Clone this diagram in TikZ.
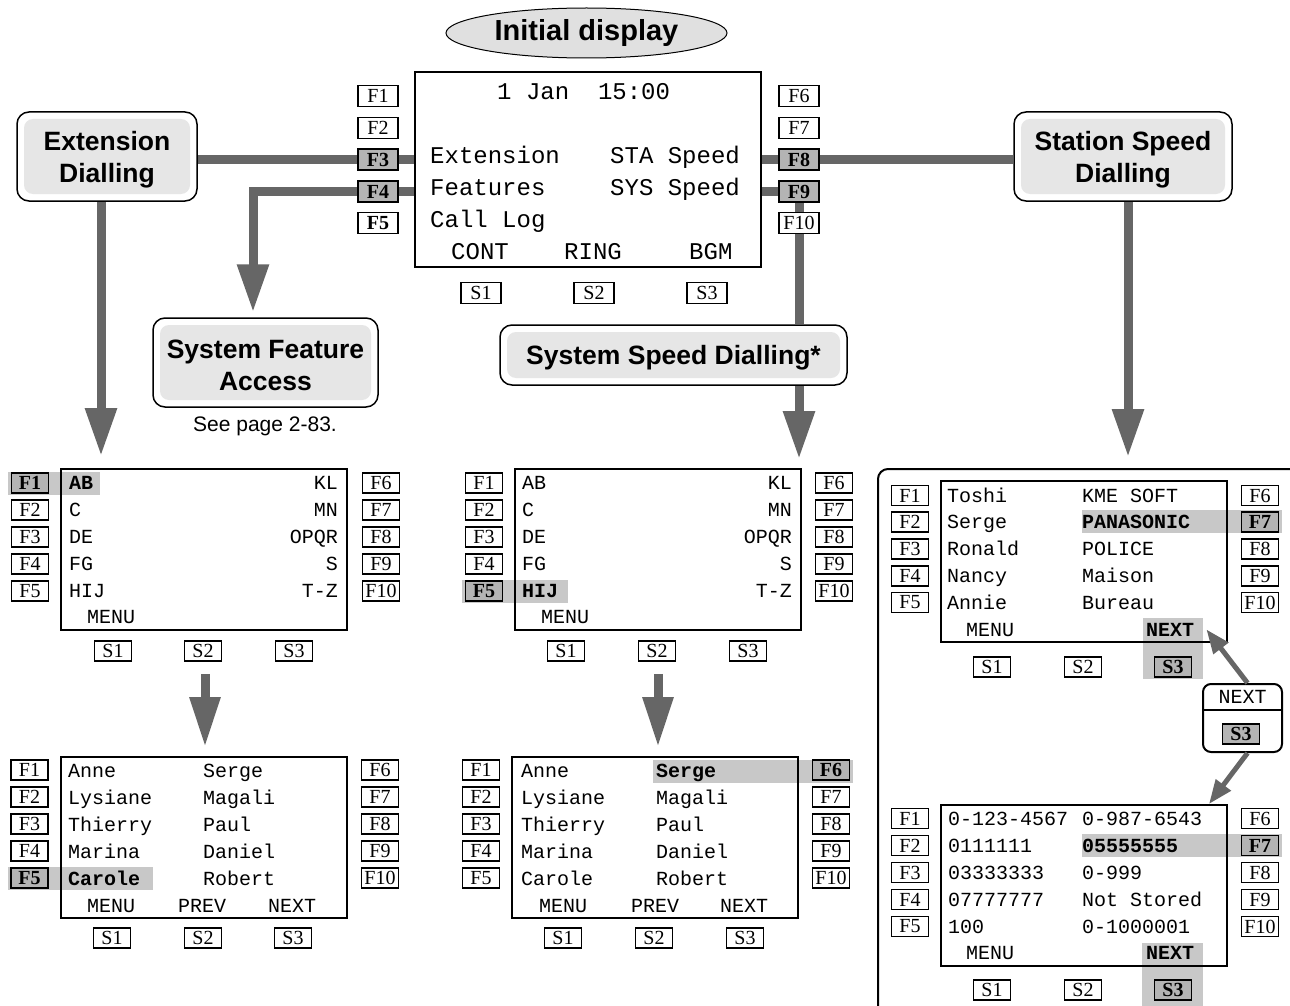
\documentclass[tikz,border=0pt]{standalone}
\usepackage{fontspec}
\setmainfont{Liberation Serif}
\setsansfont{Liberation Sans}
\newfontfamily\monof{Liberation Mono}
\usetikzlibrary{arrows.meta,shapes.geometric}
\pgfdeclarelayer{bg}
\pgfsetlayers{bg,main}
\definecolor{linegray}{HTML}{666666}
\definecolor{boxgray}{HTML}{E6E6E6}
\definecolor{hlgray}{HTML}{C8C8C8}
\definecolor{keygray}{HTML}{B4B4B4}
\definecolor{ellgray}{HTML}{E0E0E0}
\tikzset{
 fkey/.style={draw, line width=1.8pt, fill=white, inner sep=0pt, minimum width=37pt, minimum height=20pt, font=\rmfamily\fontsize{20}{20}\selectfont},
 fkeybig/.style={fkey, minimum width=40pt, minimum height=21pt},
 kplain/.style={},
 fon/.style={fill=keygray, font=\rmfamily\bfseries\fontsize{20}{20}\selectfont},
 fbold/.style={font=\rmfamily\bfseries\fontsize{20}{20}\selectfont},
 screen/.style={draw, line width=2pt, inner sep=0pt},
 lcd/.style={inner sep=0pt, anchor=base west, font=\monof\fontsize{20}{20}\selectfont},
 lcdr/.style={lcd, anchor=base east},
 lcdbig/.style={inner sep=0pt, anchor=base west, font=\monof\fontsize{24}{24}\selectfont},
 lcdb/.style={font=\monof\bfseries\fontsize{20}{20}\selectfont},
 nob/.style={},
 hl/.style={fill=hlgray},
 titlebox/.style={draw, line width=1.5pt, fill=white, rounded corners=12pt, inner sep=0pt,
   path picture={\fill[boxgray, rounded corners=9pt] ([shift={(7pt,-7pt)}]path picture bounding box.north west) rectangle ([shift={(-7pt,7pt)}]path picture bounding box.south east);}},
 titletext/.style={align=center, inner sep=0pt, font=\sffamily\bfseries\fontsize{26.5}{32}\selectfont},
 conn/.style={draw=linegray, line width=9pt},
 bigarrow/.style={conn, -{Triangle[length=48pt,width=30pt]}},
 smallarrow/.style={draw=linegray, line width=5pt, -{Triangle[length=24pt,width=18pt]}},
}
\begin{document}
\begin{tikzpicture}[x=1pt,y=-1pt]
\useasboundingbox (0,0) rectangle (1290,1006);

% ---------- title shapes ----------
\node[draw, line width=1pt, ellipse, fill=ellgray, minimum width=281pt, minimum height=50pt, inner sep=0pt,
      font=\sffamily\bfseries\fontsize{29}{29}\selectfont] (init) at (586.5,33) {Initial display};
\node[titlebox, minimum width=180pt, minimum height=89pt] (ExtD) at (107,156.5) {};
\node[titletext] (ExtDt) at (107,160) {Extension\\Dialling};
\node[titlebox, minimum width=225pt, minimum height=89pt] (SFA) at (265.5,362.5) {};
\node[titletext] (SFAt) at (265.5,365) {System Feature\\Access};
\node[anchor=base, inner sep=0pt, font=\sffamily\fontsize{21}{21}\selectfont] (see) at (265,431) {See page 2-83.};
\node[titlebox, minimum width=218pt, minimum height=89pt] (StaSD) at (1123,156.5) {};
\node[titletext] (StaSDt) at (1123,160) {Station Speed\\Dialling};
\node[titlebox, minimum width=347pt, minimum height=60pt] (SysSD) at (673.5,355) {};
\node[titletext] (SysSDt) at (673.5,358) {System Speed Dialling*};

% ---------- screens ----------
\node[screen, minimum width=346pt, minimum height=195pt] (scrTop) at (588,169.5) {};
\node[screen, minimum width=286pt, minimum height=161pt] (scrL1) at (204,549.5) {};
\node[screen, minimum width=286pt, minimum height=161pt] (scrC1) at (658,549.5) {};
\node[screen, minimum width=286pt, minimum height=161pt] (scrL2) at (204,837.5) {};
\node[screen, minimum width=286pt, minimum height=161pt] (scrC2) at (655,837.5) {};
\node[draw, line width=2pt, rounded corners=10pt, minimum width=422pt, minimum height=551pt, inner sep=0pt] (panel) at (1089,744.5) {};
\node[screen, minimum width=286pt, minimum height=161pt] (scrR1) at (1084,561.5) {};
\node[screen, minimum width=286pt, minimum height=161pt] (scrR2) at (1084,885.5) {};

% ---------- top screen ----------
\foreach \i/\y/\s in {1/96/kplain,2/128/kplain,3/159.5/fon,4/191.5/fon,5/223/fbold}
  {\node[fkeybig,\s] (tF\i) at (378,\y) {F\i};}
\foreach \i/\y/\s in {6/96/kplain,7/128/kplain,8/159.5/fon,9/191.5/fon,10/223/kplain}
  {\node[fkeybig,\s] (tF\i) at (799,\y) {F\i};}
\foreach \i/\x in {1/481,2/594,3/707}
  {\node[fkeybig] (tS\i) at (\x,293) {S\i};}
\node[lcdbig] (tTime) at (497,99.5) {1~Jan~~15:00};
\node[lcdbig] (tExt) at (430,163) {Extension};
\node[lcdbig] (tFeat) at (430,195) {Features};
\node[lcdbig] (tLog) at (430,227) {Call~Log};
\node[lcdbig] (tSTA) at (610,163) {STA~Speed};
\node[lcdbig] (tSYS) at (610,195) {SYS~Speed};
\node[lcdbig] (tCONT) at (451,259) {CONT};
\node[lcdbig] (tRING) at (564,259) {RING};
\node[lcdbig] (tBGM) at (689,259) {BGM};

% ---------- highlight bars ----------
\begin{pgfonlayer}{bg}
\fill[hl] (8,472) rectangle (100,495);
\fill[hl] (462,580) rectangle (568,603);
\fill[hl] (8,867) rectangle (153,890);
\fill[hl] (653,760) rectangle (853,783);
\fill[hl] (1082,510) rectangle (1282,533);
\fill[hl] (1143,618) rectangle (1203,679);
\fill[hl] (1082,834) rectangle (1282,857);
\fill[hl] (1142,943) rectangle (1203,1010);
\end{pgfonlayer}

% ---------- left index screen ----------
\foreach \i/\s [count=\k from 0] in {1/fon,2/kplain,3/kplain,4/kplain,5/kplain}
  {\node[fkey,\s] (l1F\i) at (30,483+27*\k) {F\i};}
\foreach \i [count=\k from 0] in {6,7,8,9,10}
  {\node[fkey] (l1F\i) at (381,483+27*\k) {F\i};}
\foreach \i/\x in {1/113,2/203,3/294}
  {\node[fkey] (l1S\i) at (\x,651) {S\i};}
\foreach \t/\s [count=\k from 0] in {AB/lcdb,C/nob,DE/nob,FG/nob,HIJ/nob}
  {\node[lcd,\s] (l1a\k) at (69,489+27*\k) {\t};}
\foreach \t [count=\k from 0] in {KL,MN,OPQR,S,T-Z}
  {\node[lcdr] (l1b\k) at (338,489+27*\k) {\t};}
\node[lcd] (l1menu) at (87,623) {MENU};

% ---------- center index screen ----------
\foreach \i/\s [count=\k from 0] in {1/kplain,2/kplain,3/kplain,4/kplain,5/fon}
  {\node[fkey,\s] (c1F\i) at (484,483+27*\k) {F\i};}
\foreach \i [count=\k from 0] in {6,7,8,9,10}
  {\node[fkey] (c1F\i) at (834,483+27*\k) {F\i};}
\foreach \i/\x in {1/566,2/657,3/748}
  {\node[fkey] (c1S\i) at (\x,651) {S\i};}
\foreach \t/\s [count=\k from 0] in {AB/nob,C/nob,DE/nob,FG/nob,HIJ/lcdb}
  {\node[lcd,\s] (c1a\k) at (522,489+27*\k) {\t};}
\foreach \t [count=\k from 0] in {KL,MN,OPQR,S,T-Z}
  {\node[lcdr] (c1b\k) at (792,489+27*\k) {\t};}
\node[lcd] (c1menu) at (541,623) {MENU};

% ---------- bottom-left name screen ----------
\foreach \i/\s [count=\k from 0] in {1/kplain,2/kplain,3/kplain,4/kplain,5/fon}
  {\node[fkey,\s] (l2F\i) at (29.5,770+27*\k) {F\i};}
\foreach \i [count=\k from 0] in {6,7,8,9,10}
  {\node[fkey] (l2F\i) at (380,770+27*\k) {F\i};}
\foreach \i/\x in {1/112,2/203,3/293}
  {\node[fkey] (l2S\i) at (\x,938) {S\i};}
\foreach \t/\s [count=\k from 0] in {Anne/nob,Lysiane/nob,Thierry/nob,Marina/nob,Carole/lcdb}
  {\node[lcd,\s] (l2a\k) at (68,777+27*\k) {\t};}
\foreach \t [count=\k from 0] in {Serge,Magali,Paul,Daniel,Robert}
  {\node[lcd] (l2b\k) at (203,777+27*\k) {\t};}
\node[lcd] (l2menu) at (87,912) {MENU};
\node[lcd] (l2prev) at (178,912) {PREV};
\node[lcd] (l2next) at (268,912) {NEXT};

% ---------- bottom-center name screen ----------
\foreach \i [count=\k from 0] in {1,2,3,4,5}
  {\node[fkey] (c2F\i) at (481,770+27*\k) {F\i};}
\foreach \i/\s [count=\k from 0] in {6/fon,7/kplain,8/kplain,9/kplain,10/kplain}
  {\node[fkey,\s] (c2F\i) at (831,770+27*\k) {F\i};}
\foreach \i/\x in {1/563,2/654,3/745}
  {\node[fkey] (c2S\i) at (\x,938) {S\i};}
\foreach \t [count=\k from 0] in {Anne,Lysiane,Thierry,Marina,Carole}
  {\node[lcd] (c2a\k) at (521,777+27*\k) {\t};}
\foreach \t/\s [count=\k from 0] in {Serge/lcdb,Magali/nob,Paul/nob,Daniel/nob,Robert/nob}
  {\node[lcd,\s] (c2b\k) at (656,777+27*\k) {\t};}
\node[lcd] (c2menu) at (539,912) {MENU};
\node[lcd] (c2prev) at (631,912) {PREV};
\node[lcd] (c2next) at (720,912) {NEXT};

% ---------- right screen 1 ----------
\foreach \i [count=\k from 0] in {1,2,3,4,5}
  {\node[fkey] (r1F\i) at (910,495.5+26.75*\k) {F\i};}
\foreach \i/\s [count=\k from 0] in {6/kplain,7/fon,8/kplain,9/kplain,10/kplain}
  {\node[fkey,\s] (r1F\i) at (1260,495.5+26.75*\k) {F\i};}
\foreach \i/\x/\s in {1/992/kplain,2/1083/kplain,3/1173/fon}
  {\node[fkey,\s] (r1S\i) at (\x,667) {S\i};}
\foreach \t [count=\k from 0] in {Toshi,Serge,Ronald,Nancy,Annie}
  {\node[lcd] (r1a\k) at (947,502+26.75*\k) {\t};}
\foreach \t/\s [count=\k from 0] in {KME~SOFT/nob,PANASONIC/lcdb,POLICE/nob,Maison/nob,Bureau/nob}
  {\node[lcd,\s] (r1b\k) at (1082,502+26.75*\k) {\t};}
\node[lcd] (r1menu) at (966,636) {MENU};
\node[lcd,lcdb] (r1next) at (1146,636) {NEXT};

% ---------- right screen 2 ----------
\foreach \i [count=\k from 0] in {1,2,3,4,5}
  {\node[fkey] (r2F\i) at (910,818.5+27*\k) {F\i};}
\foreach \i/\s [count=\k from 0] in {6/kplain,7/fon,8/kplain,9/kplain,10/kplain}
  {\node[fkey,\s] (r2F\i) at (1260,818.5+27*\k) {F\i};}
\foreach \i/\x/\s in {1/992/kplain,2/1083/kplain,3/1173/fon}
  {\node[fkey,\s] (r2S\i) at (\x,990) {S\i};}
\foreach \t [count=\k from 0] in {0-123-4567,0111111,03333333,07777777,100}
  {\node[lcd] (r2a\k) at (948,825+27*\k) {\t};}
\foreach \t/\s [count=\k from 0] in {0-987-6543/nob,05555555/lcdb,0-999/nob,Not~Stored/nob,0-1000001/nob}
  {\node[lcd,\s] (r2b\k) at (1082,825+27*\k) {\t};}
\node[lcd] (r2menu) at (966,959) {MENU};
\node[lcd,lcdb] (r2next) at (1146,959) {NEXT};

% ---------- NEXT / S3 key box ----------
\node[draw, line width=2pt, fill=white, rounded corners=8pt, minimum width=79pt, minimum height=68pt, inner sep=0pt] (nbox) at (1242.5,718) {};
\coordinate (nbdiv) at (0,710);
\draw[line width=2pt] (nbox.west |- nbdiv) -- (nbox.east |- nbdiv);
\node[lcd, anchor=base] (nbtext) at (1242.5,703) {NEXT};
\node[fkey,fon] (nbS3) at (1241,734) {S3};

% ---------- connectors ----------
\coordinate (c4) at (253,191.5);
\coordinate (extdown) at (101,0);
\coordinate (stadown) at (1128,0);
\coordinate (ldown) at (205,0);
\coordinate (cdown) at (658,0);
\begin{pgfonlayer}{bg}
\draw[conn] (ExtD.east |- tF3) -- (scrTop.west |- tF3);
\draw[bigarrow] (scrTop.west |- tF4) -- (c4) -- ([yshift=5pt]c4 |- SFA.north);
\draw[bigarrow] (ExtD.south -| extdown) -- ([yshift=12pt]scrL1.north -| extdown);
\draw[conn] (scrTop.east |- tF8) -- (StaSD.west |- tF8);
\draw[bigarrow] (StaSD.south -| stadown) -- ([yshift=11pt]panel.north -| stadown);
\draw[conn] (scrTop.east |- tF9) -- (tF9.center) -- (tF9 |- SysSD.north);
\draw[bigarrow] (SysSD.south -| tF9) -- ([yshift=9pt]scrC1.north -| tF9);
\draw[conn, -{Triangle[length=50pt,width=29pt]}] ([yshift=-12pt]l1S2.south -| ldown) -- ([yshift=9pt]scrL2.north -| ldown);
\draw[conn, -{Triangle[length=50pt,width=29pt]}] ([yshift=-12pt]c1S2.south -| cdown) -- ([yshift=9pt]scrC2.north -| cdown);
\end{pgfonlayer}
\draw[smallarrow] ([xshift=5pt]nbox.north) -- ([xshift=12pt]r1next.east);
\draw[smallarrow] ([xshift=5pt]nbox.south) -- ([xshift=-19pt]scrR2.north east);
\end{tikzpicture}
\end{document}
